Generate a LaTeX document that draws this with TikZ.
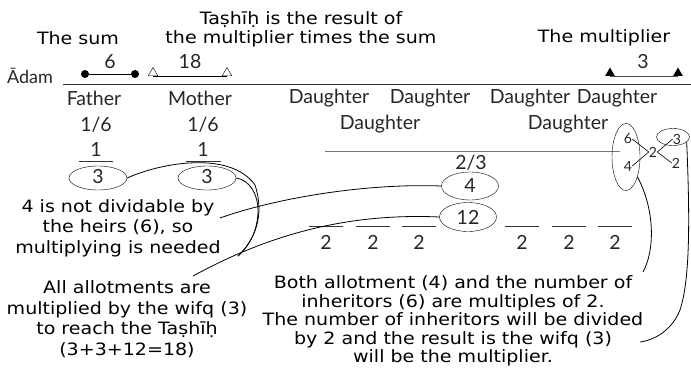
\documentclass[tikz,border=0pt]{standalone}
\usepackage{fontspec}
\setmainfont{Lato}
\newfontfamily\comic[FakeStretch=1.12]{DejaVu Sans}
\usetikzlibrary{shapes.geometric}
\begin{document}
\begin{tikzpicture}[x=1pt,y=-1pt,
  ctext/.style={font=\comic\fontsize{17}{20.5}\selectfont, align=center, inner sep=0pt},
  otext/.style={font=\fontsize{19.5}{22}\selectfont, inner sep=0pt, text=black!85},
  stext/.style={font=\fontsize{14}{16}\selectfont, inner sep=0pt, text=black!85},
  ellbox/.style={draw, ellipse, inner sep=0pt},
  dotm/.style={circle, fill, inner sep=0pt, minimum size=8pt},
  otri/.style={draw, regular polygon, regular polygon sides=3, inner sep=0pt, minimum size=11pt},
  ftri/.style={fill, regular polygon, regular polygon sides=3, inner sep=0pt, minimum size=11pt},
  conn/.style={line width=0.8pt},
  ruleline/.style={line width=0.8pt, black!80}]
\useasboundingbox (0,0) rectangle (691,367);
% header texts
\node[ctext, font=\comic\fontsize{17}{19}\selectfont] (tash) at (301,29) {Taṣhīḥ is the result of\\the multiplier times the sum};
\node[ctext] (sum) at (78,38) {The sum};
\node[ctext] (mult) at (604,38) {The multiplier};
\node[otext, font=\fontsize{18}{20}\selectfont] (adam) at (30,76) {Ādam};
% base line
\coordinate (bl) at (63,84);
\coordinate (br) at (691,84);
\draw[ruleline] (bl) -- (br);
% dots
\node[dotm] (d1) at (85,74) {};
\node[dotm] (d2) at (135,74) {};
\draw[line width=0.8pt] (d1) -- (d2);
\node[otext] (n6) at (110,62) {6};
\node[otri] (t1) at (153,73) {};
\node[otri] (t2) at (227,73) {};
\draw[line width=0.6pt] (t1.south) -- (t2.south);
\node[otext] (n18) at (190,62) {18};
\node[ftri] (f1) at (610,73) {};
\node[ftri] (f2) at (678,73) {};
\draw[line width=0.8pt, black!70] (f1.south) -- (f2.south);
\node[otext] (n3) at (643,62) {3};
% heirs
\node[otext] (fa) at (94,98) {Father};
\node[otext] (mo) at (200,98) {Mother};
\node[otext] (dau1) at (329,98) {Daughter};
\node[otext] (dau2) at (430,98) {Daughter};
\node[otext] (dau3) at (530,98) {Daughter};
\node[otext] (dau4) at (617,98) {Daughter};
\node[otext] (dau5) at (380,124) {Daughter};
\node[otext] (dau6) at (568,124) {Daughter};
\node[otext] (fr1) at (96,125) {1/6};
\node[otext] (fr2) at (203,125) {1/6};
\node[otext] (o1) at (96,149) {1};
\node[otext] (o2) at (203,149) {1};
\coordinate (u1a) at (79,161); \coordinate (u1b) at (113,161);
\coordinate (u2a) at (186,161); \coordinate (u2b) at (221,161);
\draw[ruleline] (u1a) -- (u1b);
\draw[ruleline] (u2a) -- (u2b);
\node[ellbox, minimum width=58pt, minimum height=24pt] (e3a) at (98,178) {};
\node[otext] (t3a) at (98,177) {3};
\node[ellbox, minimum width=58pt, minimum height=24pt] (e3b) at (207,178) {};
\node[otext] (t3b) at (207,177) {3};
% long line of daughters
\coordinate (ga) at (325,151); \coordinate (gb) at (620,151);
\draw[line width=1pt, black!55] (ga) -- (gb);
\node[otext] (f23) at (471,163) {2/3};
\node[ellbox, minimum width=57pt, minimum height=28pt] (e4) at (470,186) {};
\node[otext] (t4) at (470,186) {4};
\node[ellbox, minimum width=57pt, minimum height=29pt] (e12) at (468,217) {};
\node[otext] (t12) at (468,217) {12};
% dashes and 2s
\foreach \x/\i in {326/1,373/2,419/3,522/4,569/5,615/6}{
  \coordinate (dsa\i) at (\x-17,226);
  \coordinate (dsb\i) at (\x+17,226);
  \draw[line width=0.8pt, black!80] (dsa\i) -- (dsb\i);
  \node[otext] (two\i) at (\x,242) {2};
}
% small 6/4 ellipse
\node[ellbox, minimum width=28pt, minimum height=67pt] (es) at (626,157) {};
\node[stext] (s6) at (628,139) {6};
\node[stext] (s4) at (628,166) {4};
\node[stext] (s2) at (653,152) {2};
\node[stext] (s2b) at (676,163) {2};
\node[stext] (s3) at (677,139) {3};
\node[ellbox, minimum width=33pt, minimum height=17pt] (e3r) at (673,137) {};
\draw[line width=0.6pt] (s6.east) -- (s2.west);
\draw[line width=0.6pt] (s4.east) -- (s2.west);
\draw[line width=0.6pt] (s2.east) -- (s3.west);
\draw[line width=0.6pt] (s2.east) -- (s2b.west);
% comments
\node[ctext] (c1) at (118,228) {4 is not dividable by\\the heirs (6), so\\multiplying is needed};
\node[ctext] (c2) at (127,319) {All allotments are\\multiplied by the wifq (3)\\to reach the Taṣhīḥ\\(3+3+12=18)};
\node[ctext, font=\comic\fontsize{17}{18.5}\selectfont] (c3) at (453,321) {Both allotment (4) and the number of\\inheritors (6) are multiples of 2.\\The number of inheritors will be divided\\by 2 and the result is the wifq (3)\\will be the multiplier.};
% connectors
\coordinate (j) at (238,256);
\coordinate (c1e) at (220,218);
\coordinate (c2t) at (193,276);
\coordinate (c3a) at (643,272);
\coordinate (c3b) at (640,342);
\draw[conn] (e3a.east) .. controls (160,163) and (230,150) .. (255,185) .. controls (265,215) and (255,240) .. (j);
\draw[conn] (e3b.east) .. controls (250,180) and (258,195) .. (258,210) .. controls (258,230) and (250,245) .. (j);
\draw[conn] (c2t) .. controls (250,245) and (330,212) .. (e12.west);
\draw[conn] (c1e) .. controls (270,200) and (360,183) .. (e4.west);
\draw[conn] (es.-60) .. controls (655,210) and (655,250) .. (c3a);
\draw[conn] (e3r.-20) .. controls (690,220) and (690,280) .. (680,310) .. controls (672,330) and (655,340) .. (c3b);
\end{tikzpicture}
\end{document}
